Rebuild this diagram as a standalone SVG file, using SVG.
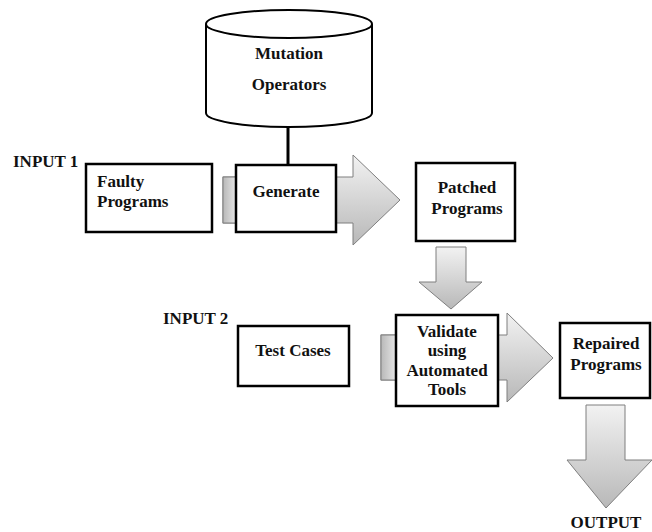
<svg xmlns="http://www.w3.org/2000/svg" width="652" height="532" viewBox="0 0 652 532">
<defs>
<linearGradient id="gv" x1="0" y1="0" x2="0" y2="1">
<stop offset="0" stop-color="#f2f2f2"/>
<stop offset="1" stop-color="#b8b8b8"/>
</linearGradient>
<linearGradient id="gh" x1="0" y1="0" x2="1" y2="0">
<stop offset="0" stop-color="#b8b8b8"/>
<stop offset="1" stop-color="#e6e6e6"/>
</linearGradient>
</defs>
<style>
text{font-family:"Liberation Serif","Times New Roman",serif;font-weight:bold;font-size:17px;fill:#111;}
.c{text-anchor:middle;}
.box{fill:#fff;stroke:#000;stroke-width:2.5;}
.arr{fill:url(#gv);stroke:#7f7f7f;stroke-width:1;}
.stub{fill:url(#gh);stroke:#7f7f7f;stroke-width:1;}
.cyl{fill:#fff;stroke:#000;stroke-width:2;}
</style>
<rect width="652" height="532" fill="#fff"/>
<g id="labels">
<text x="13" y="167">INPUT 1</text>
<text x="163" y="324">INPUT 2</text>
<text class="c" x="606" y="528">OUTPUT</text>
</g>
<g id="connectors">
<line x1="288" y1="127" x2="288" y2="165" stroke="#000" stroke-width="3"/>
<polygon class="arr" points="223,177 353,177 353,155 400,200 353,245 353,223 223,223"/>
<rect class="stub" x="223" y="177" width="13" height="46"/>
<polygon class="arr" points="436,247 466,247 466,282 482,282 451,309 419,282 436,282"/>
<polygon class="arr" points="381,335 507,335 507,313 553,358 507,402 507,380 381,380"/>
<rect class="stub" x="381" y="335" width="15" height="45"/>
<polygon class="arr" points="586,405 625,405 625,460 652,460 606,508 567,460 586,460"/>
</g>
<g id="mutation-operators">
<path class="cyl" d="M206,24 V113 A83,14 0 0 0 372,113 V24"/>
<ellipse class="cyl" cx="289" cy="24" rx="83" ry="14"/>
<text class="c" x="289" y="59">Mutation</text>
<text class="c" x="289" y="90">Operators</text>
</g>
<g id="faulty-programs">
<rect class="box" x="86" y="164" width="126" height="68"/>
<text x="97" y="187">Faulty</text>
<text x="97" y="207">Programs</text>
</g>
<g id="generate">
<rect class="box" x="236" y="165" width="100" height="67"/>
<text class="c" x="286" y="197">Generate</text>
</g>
<g id="patched-programs">
<rect class="box" x="416" y="163" width="99" height="78"/>
<text class="c" x="467" y="193">Patched</text>
<text class="c" x="467" y="214">Programs</text>
</g>
<g id="test-cases">
<rect class="box" x="238" y="326" width="111" height="60"/>
<text class="c" x="293" y="356">Test Cases</text>
</g>
<g id="validate">
<rect class="box" x="396" y="315" width="102" height="91"/>
<text class="c" x="447" y="337">Validate</text>
<text class="c" x="447" y="356">using</text>
<text class="c" x="447" y="376">Automated</text>
<text class="c" x="447" y="395">Tools</text>
</g>
<g id="repaired-programs">
<rect class="box" x="560" y="323" width="90" height="75"/>
<text class="c" x="606" y="349">Repaired</text>
<text class="c" x="606" y="370">Programs</text>
</g>
</svg>
